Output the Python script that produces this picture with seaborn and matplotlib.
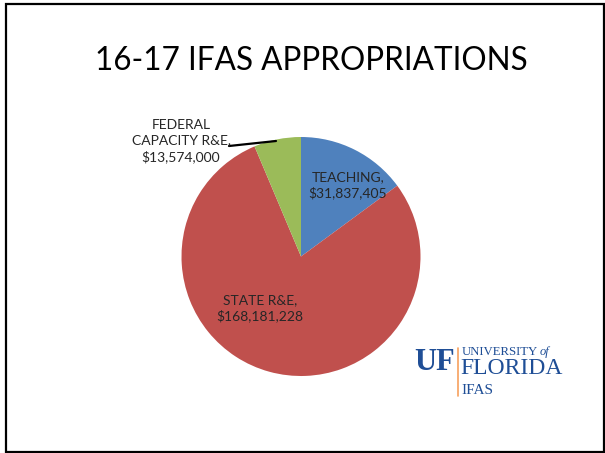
import matplotlib
matplotlib.use("Agg")
import matplotlib.pyplot as plt
import seaborn as sns
from matplotlib.patches import Rectangle
from matplotlib.lines import Line2D

# ---- data ----
categories = ["TEACHING", "STATE R&E", "FEDERAL CAPACITY R&E"]
values = [31837405, 168181228, 13574000]
colors = ["#4F81BD", "#C0504D", "#9BBB59"]
title = "16-17 IFAS APPROPRIATIONS"

sns.set_theme(style="white")
plt.rcParams['font.family'] = ['Lato', 'DejaVu Sans']

W, H = 605, 453
fig = plt.figure(figsize=(W / 100, H / 100), dpi=100)
fig.patch.set_facecolor("white")

def fx(x):
    return x / W

def fy(y):
    return 1 - y / H

# slide border
fig.add_artist(Rectangle((fx(6), fy(452)), fx(604) - fx(6), fy(4) - fy(452),
                         transform=fig.transFigure, fill=False,
                         edgecolor="black", linewidth=1.6))

# title
fig.text(fx(311), fy(61), title, ha="center", va="center", fontsize=22.7,
         color="black")

# pie axes
cx, cy, r = 301, 256.5, 119.5
ax = fig.add_axes([fx(cx - r), fy(cy + r), (2 * r) / W, (2 * r) / H])
ax.pie(values, colors=colors, startangle=90, counterclock=False,
       wedgeprops=dict(linewidth=0))
ax.set_xlim(-1, 1)
ax.set_ylim(-1, 1)
ax.set_aspect("equal")
ax.axis("off")

def dx(x):
    return (x - cx) / r

def dy(y):
    return (cy - y) / r

def money(v):
    return "${:,}".format(v)

lab_fs = 10
# Teaching
ax.text(dx(348), dy(185), f"{categories[0]},\n{money(values[0])}", ha="center",
        va="center", fontsize=lab_fs, linespacing=1.3, clip_on=False)
# State
ax.text(dx(260), dy(308), f"{categories[1]},\n{money(values[1])}", ha="center",
        va="center", fontsize=lab_fs, linespacing=1.35, clip_on=False)
# Federal
ax.text(dx(181), dy(141), "FEDERAL\nCAPACITY R&E,\n" + money(values[2]),
        ha="center", va="center", fontsize=lab_fs, linespacing=1.35,
        clip_on=False)
ax.add_line(Line2D([dx(229), dx(276)], [dy(146), dy(141)], color="black",
                   linewidth=1.6, clip_on=False))

# logo
blue = "#1F4E96"
orange = "#F7A15E"
fig.text(fx(414), fy(363), "UF", ha="left", va="center", fontsize=22,
         fontweight="bold", color=blue, family="Liberation Serif")
fig.add_artist(Line2D([fx(458), fx(458)], [fy(348), fy(396)],
                      transform=fig.transFigure, color=orange, linewidth=1.2))
fig.text(fx(462), fy(352), "UNIVERSITY", ha="left", va="center", fontsize=9.2,
         color=blue, family="Liberation Serif")
fig.text(fx(540), fy(352), "of", ha="left", va="center", fontsize=9,
         color=blue, family="Liberation Serif", style="italic")
fig.text(fx(460), fy(369), "FLORIDA", ha="left", va="center", fontsize=17,
         color=blue, family="Liberation Serif")
fig.text(fx(461), fy(390), "IFAS", ha="left", va="center", fontsize=11,
         color=blue, family="Liberation Serif")

fig.savefig("out.png", dpi=100, facecolor="white")
